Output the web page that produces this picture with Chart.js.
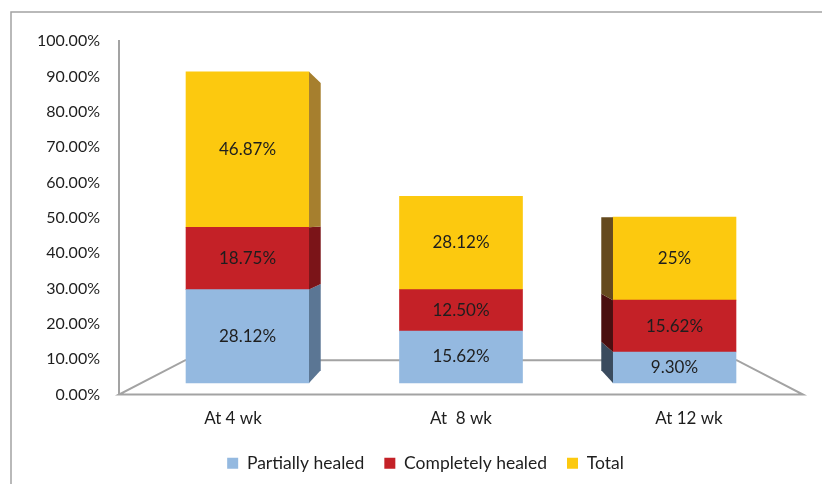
<!DOCTYPE html>
<html>
<head>
<meta charset="utf-8">
<script src="https://cdn.jsdelivr.net/npm/chart.js@4/dist/chart.umd.min.js"></script>
<style>
  html, body { margin: 0; padding: 0; background: #fff; }
  #wrap { width: 822px; height: 484px; }
</style>
</head>
<body>
<div id="wrap"><canvas id="healChart" width="822" height="484"></canvas></div>
<script>
// 資料
const categories = ['At 4 wk', 'At  8 wk', 'At 12 wk'];
const partiallyHealed = [28.12, 15.62, 9.30];
const completelyHealed = [18.75, 12.50, 15.62];
const totalHealed = [46.87, 28.12, 25];
const partialText = ['28.12%', '15.62%', '9.30%'];
const completeText = ['18.75%', '12.50%', '15.62%'];
const totalText = ['46.87%', '28.12%', '25%'];
const seriesNames = ['Partially healed', 'Completely healed', 'Total'];

// 顏色
const colors = {
    partial: '#94b9e0',
    complete: '#c42127',
    total: '#fcc90f',
    partialRight: '#5b7694', partialLeft: '#3a4b5e',
    completeRight: '#7b1418', completeLeft: '#4a0f10',
    totalRight: '#a67f2e', totalLeft: '#654a1e',
    line: '#a3a3a3',
    text: '#1e1e1e'
};
const FONT = 'Lato, "Liberation Sans", sans-serif';

function points(values) {
    return values.map((v, i) => ({ x: i, y: v }));
}

// 邊框與地板
const floorPlugin = {
    id: 'floor',
    afterLayout(chart) {
        // 圖例稍微右移
        chart.legend.left += 24;
        chart.legend.right += 24;
    },
    beforeDraw(chart) {
        const ctx = chart.ctx;
        ctx.save();
        ctx.strokeStyle = colors.line;
        ctx.lineWidth = 1.5;
        ctx.strokeRect(11, 12, 1000, 1000);
        ctx.restore();
    },
    beforeDatasetsDraw(chart) {
        const a = chart.chartArea;
        const ctx = chart.ctx;
        const vx = (a.left + a.right) / 2;
        const vy = (a.top + a.bottom) / 2;
        const f = 0.194;
        const bl = { x: a.left + (vx - a.left) * f, y: a.bottom + (vy - a.bottom) * f };
        const br = { x: a.right + (vx - a.right) * f, y: bl.y };
        ctx.save();
        ctx.strokeStyle = colors.line;
        ctx.lineWidth = 2;
        ctx.beginPath();
        ctx.moveTo(a.left, a.bottom);
        ctx.lineTo(a.right, a.bottom);
        ctx.lineTo(br.x, br.y);
        ctx.lineTo(bl.x, bl.y);
        ctx.closePath();
        ctx.stroke();
        ctx.restore();
    }
};

// 側面與數值
const sidePlugin = {
    id: 'sides',
    afterDatasetsDraw(chart) {
        const a = chart.chartArea;
        const ctx = chart.ctx;
        const vx = (a.left + a.right) / 2;
        const vy = (a.top + a.bottom) / 2;
        const f = 0.077;
        const sideColors = [
            [colors.partialRight, colors.partialLeft],
            [colors.completeRight, colors.completeLeft],
            [colors.totalRight, colors.totalLeft]
        ];
        const texts = [partialText, completeText, totalText];
        ctx.save();
        chart.data.datasets.forEach((ds, di) => {
            const meta = chart.getDatasetMeta(di);
            meta.data.forEach((bar, i) => {
                const p = bar.getProps(['x', 'y', 'base', 'width'], true);
                const top = Math.min(p.y, p.base);
                const bottom = Math.max(p.y, p.base);
                let edge = null, col = null;
                if (p.x < vx - 2) { edge = p.x + p.width / 2; col = sideColors[di][0]; }
                else if (p.x > vx + 2) { edge = p.x - p.width / 2; col = sideColors[di][1]; }
                if (edge !== null) {
                    const ex = edge + (vx - edge) * f;
                    ctx.fillStyle = col;
                    ctx.beginPath();
                    ctx.moveTo(edge, top);
                    ctx.lineTo(ex, top + (vy - top) * f);
                    ctx.lineTo(ex, bottom + (vy - bottom) * f);
                    ctx.lineTo(edge, bottom);
                    ctx.closePath();
                    ctx.fill();
                }
                ctx.fillStyle = colors.text;
                ctx.font = '17px ' + FONT;
                ctx.textAlign = 'center';
                ctx.textBaseline = 'middle';
                ctx.fillText(texts[di][i], p.x, (top + bottom) / 2);
            });
        });
        ctx.restore();
    }
};

new Chart(document.getElementById('healChart'), {
    type: 'bar',
    data: {
        labels: categories,
        datasets: [
            { label: seriesNames[0], data: points(partiallyHealed), backgroundColor: colors.partial },
            { label: seriesNames[1], data: points(completelyHealed), backgroundColor: colors.complete },
            { label: seriesNames[2], data: points(totalHealed), backgroundColor: colors.total }
        ].map(ds => Object.assign(ds, { xAxisID: 'xb', yAxisID: 'yb', barThickness: 123, borderWidth: 0 }))
    },
    options: {
        responsive: false,
        animation: false,
        layout: { padding: { top: 41, left: 0, right: 19, bottom: 2 } },
        scales: {
            x: {
                type: 'category',
                position: 'bottom',
                grid: { display: false, drawTicks: false },
                border: { display: false },
                ticks: { color: colors.text, font: { family: FONT, size: 17 }, padding: 13.5 },
                afterFit(scale) { scale.height = 40; }
            },
            xb: { type: 'linear', display: false, stacked: true, offset: false, min: -0.602, max: 2.602 },
            y: {
                type: 'linear',
                position: 'left',
                min: 0,
                max: 100,
                grid: { display: false, drawTicks: false },
                border: { display: true, color: colors.line, width: 2 },
                ticks: {
                    stepSize: 10,
                    padding: 19,
                    color: colors.text,
                    font: { family: FONT, size: 16 },
                    callback: v => v.toFixed(2) + '%'
                },
                afterFit(scale) { scale.width = 119; }
            },
            yb: { type: 'linear', display: false, stacked: true, min: -3.5, max: 103 }
        },
        plugins: {
            legend: {
                position: 'bottom',
                labels: {
                    boxWidth: 11,
                    boxHeight: 11,
                    padding: 20,
                    color: colors.text,
                    font: { family: FONT, size: 17.5 }
                }
            },
            tooltip: { enabled: false }
        }
    },
    plugins: [floorPlugin, sidePlugin]
});
</script>
</body>
</html>
